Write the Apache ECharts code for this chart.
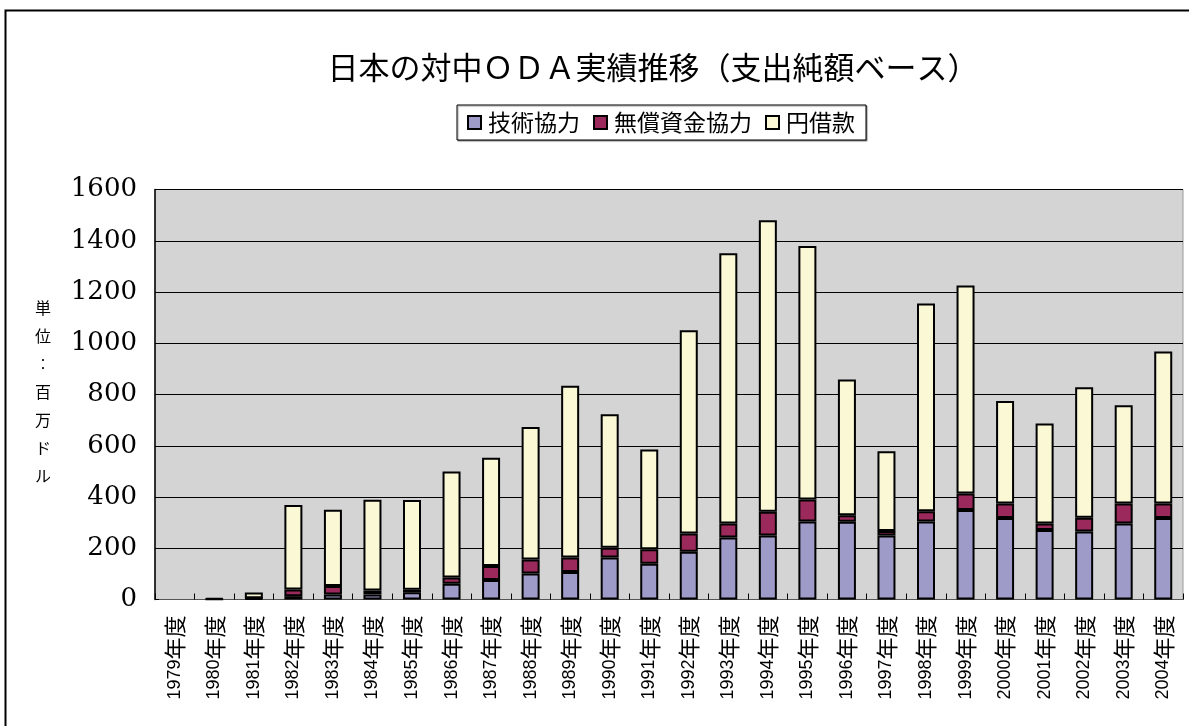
<!DOCTYPE html>
<html><head><meta charset="utf-8">
<script src="https://cdn.jsdelivr.net/npm/echarts@6/dist/echarts.min.js"></script>
<style>html,body{margin:0;padding:0;background:#fff}#c{width:1189px;height:726px}</style>
</head><body><div id="c"></div>
<script>
const categories = ['1979年度','1980年度','1981年度','1982年度','1983年度','1984年度','1985年度','1986年度','1987年度','1988年度','1989年度','1990年度','1991年度','1992年度','1993年度','1994年度','1995年度','1996年度','1997年度','1998年度','1999年度','2000年度','2001年度','2002年度','2003年度','2004年度'];
const techCoop = [0, 1, 4, 13, 20, 20, 28, 61, 76, 101, 107, 164, 140, 186, 242, 250, 304, 303, 250, 304, 349, 318, 271, 265, 297, 318];
const grantAid = [0, 0, 1, 26, 33, 15, 10, 25, 55, 55, 57, 38, 56, 72, 55, 92, 86, 26, 17, 40, 65, 57, 26, 54, 78, 57];
const yenLoan = [0, 4, 22, 330, 297, 354, 350, 414, 422, 517, 670, 521, 389, 793, 1054, 1138, 990, 530, 312, 811, 811, 400, 390, 509, 383, 593];
const yTicks = [0, 200, 400, 600, 800, 1000, 1200, 1400, 1600];
const seriesNames = ['技術協力', '無償資金協力', '円借款'];
const colors = ['#9f9bc9', '#9b295b', '#fbf8d6'];

const chart = echarts.init(document.getElementById('c'));
const jp = '"Noto Sans CJK JP", sans-serif';
const mk = (name, data, color) => ({
  name, type: 'bar', stack: 'total', barWidth: 18,
  data: data.map(v => (v === 0 ? '-' : v)),
  itemStyle: { color, borderColor: '#000', borderWidth: 2 }
});
chart.setOption({
  animation: false,
  backgroundColor: '#fff',
  title: {
    text: '日本の対中ＯＤＡ実績推移（支出純額ベース）',
    left: 648, top: 47, textAlign: 'center',
    textStyle: { fontFamily: jp, fontSize: 31, fontWeight: 'normal', color: '#000' }
  },
  legend: {
    data: seriesNames, left: 457, top: 105,
    padding: [6, 11, 6, 10], itemGap: 13, itemWidth: 13, itemHeight: 13,
    borderColor: '#000', borderWidth: 1, backgroundColor: '#fff',
    shadowColor: 'rgba(0,0,0,0.4)', shadowOffsetX: 1, shadowOffsetY: 1, shadowBlur: 1,
    icon: 'rect',
    itemStyle: { borderColor: '#000', borderWidth: 2 },
    textStyle: { fontFamily: jp, fontSize: 23, color: '#000', padding: [0, 0, 0, 2] }
  },
  grid: { left: 155, top: 189.5, right: 6, bottom: 126.5, show: true, backgroundColor: '#d4d4d4', borderColor: '#9a9a9a', borderWidth: 1 },
  xAxis: {
    type: 'category', data: categories,
    axisLine: { lineStyle: { color: '#555', width: 1 } },
    axisTick: { show: true, inside: true, length: 6, lineStyle: { color: '#000' } },
    axisLabel: {
      interval: 0, rotate: 90, margin: 16, color: '#000',
      formatter: v => '{a|' + v.slice(0, 4) + '}{b|' + v.slice(4) + '}',
      rich: {
        a: { fontFamily: '"Liberation Sans", Arial, sans-serif', fontSize: 18, color: '#000' },
        b: { fontFamily: jp, fontSize: 22, color: '#000' }
      }
    }
  },
  yAxis: {
    type: 'value', min: 0, max: 1600, interval: 200,
    axisLine: { show: true, lineStyle: { color: '#000', width: 1.5 } },
    axisTick: { show: true, inside: true, length: 4, lineStyle: { color: '#000' } },
    splitLine: { lineStyle: { color: '#000', width: 1 } },
    axisLabel: { margin: 18, padding: [10, 0, 0, 0], fontFamily: '"DejaVu Serif", "Liberation Serif", serif', fontSize: 26, color: '#000',
      formatter: v => yTicks.includes(v) ? String(v) : '' }
  },
  graphic: [
    { type: 'rect', left: 3, top: 8, shape: { width: 1250, height: 800 }, style: { fill: 'none', stroke: '#000', lineWidth: 2 }, z: 100 },
    { type: 'text', left: 35, top: 294, style: { text: '単\n位\n︰\n百\n万\nド\nル', fontFamily: jp, fontSize: 16, lineHeight: 28, fill: '#000', align: 'center' } }
  ],
  series: [mk(seriesNames[0], techCoop, colors[0]), mk(seriesNames[1], grantAid, colors[1]), mk(seriesNames[2], yenLoan, colors[2])]
});
</script></body></html>
